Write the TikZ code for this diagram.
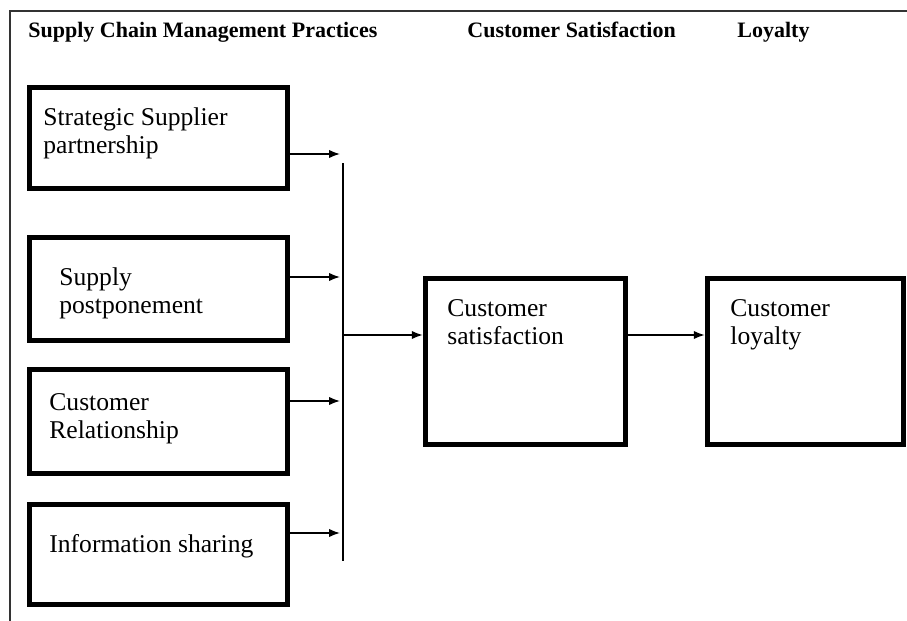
\documentclass[tikz,border=0pt]{standalone}
\usepackage{fontspec}
\setmainfont{Liberation Serif}
\usetikzlibrary{arrows.meta}
\tikzset{
	blk/.style={draw, line width=2.5pt, inner sep=0pt},
	lbl/.style={anchor=north west, inner sep=0pt, align=left, font=\fontsize{12.8}{14}\selectfont},
	head/.style={anchor=north west, inner sep=0pt, font=\fontsize{11}{13}\selectfont\bfseries},
	arr/.style={line width=0.75pt, -{Latex[length=5.5pt,width=4.2pt]}},
	bus/.style={line width=0.75pt},
	frame/.style={line width=0.9pt, color=black!80}
}
\begin{document}
\begin{tikzpicture}[x=0.5pt, y=-0.5pt]
			%%%%% START %%%%%
			\useasboundingbox (0, 0) rectangle (907, 621);
			
			\draw[frame] (10, 621) -- (10, 11) -- (907, 11);
			
			\node[head] (hscm) at (28, 22) {Supply Chain Management Practices};
			\node[head] (hsat) at (467, 22) {Customer Satisfaction};
			\node[head] (hloy) at (737, 22) {Loyalty};
			
			\node[blk, minimum width=129.25pt, minimum height=50.75pt] (ssp) at (158.5, 138) {};
			\node[blk, minimum width=129.25pt, minimum height=51.75pt] (spp) at (158.5, 289) {};
			\node[blk, minimum width=129.25pt, minimum height=52.25pt] (crel) at (158.5, 421.5) {};
			\node[blk, minimum width=129.25pt, minimum height=50.25pt] (info) at (158.5, 554.5) {};
			\node[blk, minimum width=100.25pt, minimum height=83.25pt] (csat) at (525.5, 361.5) {};
			\node[blk, minimum width=98.25pt, minimum height=83.25pt] (cloy) at (805.5, 361.5) {};
			
			\node[lbl] (ssptxt) at (43, 107) {Strategic Supplier\\partnership};
			\node[lbl] (spptxt) at (59, 267) {Supply\\postponement};
			\node[lbl] (creltxt) at (49, 393) {Customer\\Relationship};
			\node[lbl] (infotxt) at (49, 534) {Information sharing};
			\node[lbl] (csattxt) at (447, 299) {Customer\\satisfaction};
			\node[lbl] (cloytxt) at (730, 299) {Customer\\loyalty};
			
			\coordinate (bustop) at (343, 163);
			\coordinate (busbot) at (343, 561);
			\coordinate (busmid) at (343, 335);
			\coordinate (in1) at (340, 154);
			\coordinate (in2) at (340, 277);
			\coordinate (in3) at (340, 401);
			\coordinate (in4) at (340, 533);
			
			\draw[bus] (bustop) -- (busbot);
			\draw[arr] (ssp.east |- in1) -- (in1);
			\draw[arr] (spp.east |- in2) -- (in2);
			\draw[arr] (crel.east |- in3) -- (in3);
			\draw[arr] (info.east |- in4) -- (in4);
			
			\draw[arr] (busmid) -- (csat.west |- busmid);
			\draw[arr] (csat.east |- busmid) -- (cloy.west |- busmid);
			%%%%% END %%%%%
\end{tikzpicture}
\end{document}
